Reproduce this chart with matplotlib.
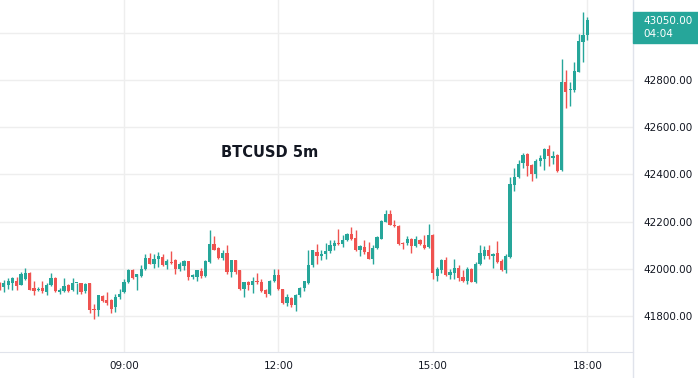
import matplotlib
matplotlib.use("Agg")
import matplotlib.pyplot as plt
import matplotlib.dates as mdates
from matplotlib.patches import Rectangle
from matplotlib.lines import Line2D
from datetime import datetime, timedelta

# 5 minute BTCUSD candles, first one at 06:35
start = datetime(2022, 2, 9, 6, 35)
opens = [41936, 41922, 41933, 41939, 41950, 41932, 41957, 41982, 41918, 41908,
         41919, 41901, 41929, 41960, 41902, 41905, 41929, 41908, 41939, 41939,
         41905, 41939, 41830, 41823, 41884, 41868, 41868, 41837, 41879, 41901,
         41943, 41996, 41965, 41969, 41997, 42047, 42021, 42043, 42050, 42014,
         42028, 42038, 42000, 42013, 42033, 41965, 41967, 41990, 41969, 42028,
         42104, 42089, 42047, 42067, 41986, 42038, 41993, 41915, 41943, 41929,
         41948, 41943, 41908, 41891, 41948, 41974, 41912, 41855, 41877, 41847,
         41887, 41919, 41940, 42014, 42071, 42052, 42061, 42074, 42095, 42106,
         42104, 42121, 42146, 42130, 42078, 42092, 42071, 42043, 42088, 42128,
         42199, 42230, 42187, 42182, 42111, 42111, 42125, 42096, 42122, 42102,
         42091, 42145, 41969, 41993, 42038, 41972, 41983, 42003, 41965, 41946,
         42000, 41943, 42021, 42053, 42081, 42056, 42067, 42031, 41993, 42049,
         42354, 42389, 42448, 42487, 42441, 42403, 42455, 42465, 42507, 42469,
         42483, 42418, 42793, 42758, 42758, 42835, 42961, 42992]
highs = [41943, 41953, 41962, 41967, 41967, 41986, 42004, 41986, 41948, 41922,
         41948, 41939, 41982, 41965, 41919, 41962, 41936, 41962, 41941, 41940,
         41940, 41939, 41851, 41887, 41887, 41901, 41872, 41894, 41915, 41957,
         41997, 42000, 41979, 42014, 42061, 42067, 42064, 42071, 42064, 42043,
         42075, 42043, 42028, 42038, 42033, 41979, 41993, 42004, 42035, 42163,
         42138, 42092, 42078, 42099, 42038, 42038, 41993, 41943, 41948, 41967,
         41982, 41957, 41915, 41953, 42000, 42000, 41915, 41894, 41882, 41894,
         41922, 41946, 42078, 42081, 42106, 42081, 42109, 42123, 42121, 42167,
         42142, 42152, 42177, 42163, 42099, 42121, 42113, 42099, 42139, 42206,
         42248, 42248, 42206, 42187, 42113, 42139, 42130, 42139, 42128, 42142,
         42191, 42149, 42007, 42043, 42050, 42000, 42043, 42014, 41993, 42007,
         42003, 42028, 42102, 42098, 42101, 42066, 42119, 42042, 42063, 42389,
         42427, 42459, 42490, 42490, 42445, 42465, 42483, 42511, 42525, 42501,
         42487, 42891, 42842, 42793, 42877, 42996, 43090, 43067]
lows = [41911, 41901, 41915, 41911, 41908, 41929, 41953, 41908, 41887, 41905,
        41896, 41887, 41925, 41901, 41891, 41901, 41901, 41905, 41894, 41891,
        41896, 41811, 41787, 41801, 41858, 41848, 41811, 41816, 41872, 41896,
        41939, 41957, 41911, 41965, 41993, 42018, 42004, 42007, 42010, 42000,
        42021, 41979, 41990, 41993, 41953, 41957, 41948, 41962, 41967, 42024,
        42078, 42043, 42035, 41979, 41965, 41979, 41908, 41879, 41911, 41896,
        41936, 41901, 41882, 41887, 41943, 41908, 41851, 41844, 41837, 41820,
        41879, 41905, 41936, 42007, 42021, 42038, 42043, 42067, 42081, 42099,
        42092, 42118, 42121, 42075, 42052, 42064, 42040, 42021, 42085, 42125,
        42196, 42184, 42177, 42099, 42082, 42099, 42068, 42092, 42102, 42085,
        42088, 41957, 41950, 41983, 41969, 41957, 41955, 41950, 41943, 41936,
        41943, 41940, 42017, 42042, 42042, 42003, 42025, 41989, 41983, 42045,
        42329, 42385, 42427, 42395, 42371, 42385, 42434, 42420, 42437, 42445,
        42410, 42414, 42681, 42688, 42751, 42835, 42877, 42968]
closes = [41918, 41939, 41950, 41962, 41928, 41976, 41982, 41911, 41905, 41914,
          41904, 41929, 41962, 41904, 41908, 41925, 41905, 41939, 41941, 41901,
          41936, 41823, 41823, 41887, 41865, 41854, 41830, 41882, 41894, 41943,
          41993, 41962, 41976, 42000, 42047, 42021, 42043, 42052, 42014, 42033,
          42024, 42000, 42021, 42033, 41965, 41972, 41993, 41969, 42033, 42104,
          42081, 42047, 42067, 41986, 42038, 41986, 41915, 41943, 41929, 41948,
          41942, 41905, 41891, 41950, 41974, 41912, 41855, 41879, 41847, 41889,
          41919, 41946, 42017, 42078, 42052, 42064, 42075, 42099, 42109, 42104,
          42123, 42149, 42128, 42078, 42095, 42071, 42043, 42088, 42135, 42201,
          42234, 42187, 42180, 42106, 42105, 42125, 42096, 42125, 42106, 42088,
          42145, 41983, 42000, 42038, 41972, 41986, 42003, 41960, 41950, 42000,
          41943, 42021, 42065, 42081, 42053, 42063, 42028, 41993, 42056, 42357,
          42389, 42445, 42483, 42437, 42403, 42455, 42469, 42507, 42479, 42479,
          42413, 42793, 42747, 42761, 42838, 42966, 42992, 43053]

price_ticks = [41800, 42000, 42200, 42400, 42600, 42800, 43000]
time_ticks = ["09:00", "12:00", "15:00", "18:00"]
last_price = "43050.00"
countdown = "04:04"

UP = "#26a69a"
DOWN = "#ef5350"
TXT = "#131722"
GRID = "#eeeeee"
BORDER = "#e0e3eb"

W, H = 698, 378
fig = plt.figure(figsize=(W / 100, H / 100), dpi=100)
ax = fig.add_axes([0, 26 / H, 633 / W, 352 / H])

step = 5 / (24 * 60)
times = [mdates.date2num(start + timedelta(minutes=5 * i)) for i in range(len(opens))]
colors = [UP if c >= o else DOWN for o, c in zip(opens, closes)]
bottoms = [min(o, c) for o, c in zip(opens, closes)]
heights = [max(abs(c - o), 3) for o, c in zip(opens, closes)]

ax.vlines(times, lows, highs, colors=colors, linewidth=1, zorder=2)
ax.bar(times, heights, bottom=bottoms, width=step * 0.75, color=colors,
       linewidth=0, zorder=3)

ax.set_xlim(times[0] + 0.1 * step, times[0] + 147.65 * step)
ax.set_ylim(41647, 43139)

day = start.date()
tick_pos = [mdates.date2num(datetime.combine(day, datetime.strptime(t, "%H:%M").time()))
            for t in time_ticks]
ax.set_xticks(tick_pos)
ax.set_xticklabels(time_ticks)
ax.set_yticks(price_ticks)
ax.set_yticklabels([f"{p:.2f}" if p < 43000 else "" for p in price_ticks])
ax.yaxis.tick_right()

ax.grid(True, color=GRID, linewidth=1, zorder=0)
ax.tick_params(axis="both", length=0, labelsize=7.5, labelcolor=TXT)
ax.tick_params(axis="x", pad=6.5)
ax.tick_params(axis="y", pad=7.5)
for side in ["top", "left", "right"]:
    ax.spines[side].set_visible(False)
ax.spines["bottom"].set_color(BORDER)

# price scale border
fig.add_artist(Line2D([633 / W, 633 / W], [0, 1], color=BORDER, linewidth=1))

ax.text(270 / 633, 1 - 152 / 352, "BTCUSD 5m", transform=ax.transAxes,
        ha="center", va="center", fontsize=10.5, fontweight="bold", color=TXT)

# last price tag
fig.add_artist(Rectangle((633 / W, 1 - 43 / H), 65 / W, 31 / H,
                         transform=fig.transFigure, color=UP, zorder=5))
fig.text(643 / W, 1 - 21 / H, last_price, color="white", fontsize=7.5,
         va="center", ha="left", zorder=6)
fig.text(643 / W, 1 - 34 / H, countdown, color="white", fontsize=7.5,
         va="center", ha="left", zorder=6)

fig.savefig("out.png", dpi=100)
